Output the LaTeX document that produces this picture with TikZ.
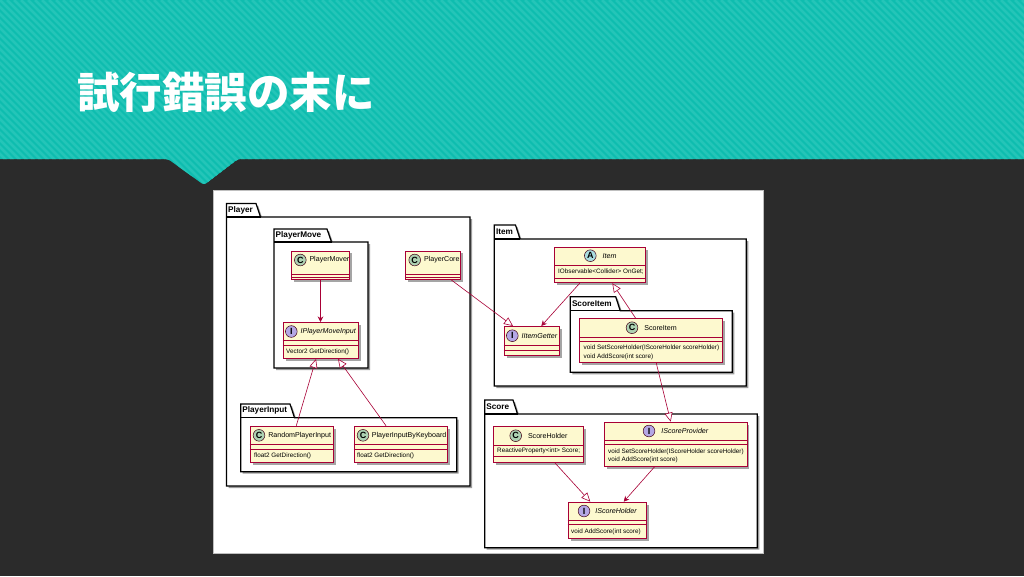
\documentclass[tikz,border=0pt]{standalone}
\usepackage{fontspec}
\setmainfont{Liberation Sans}
\newfontfamily\cjk{Noto Sans CJK JP}
\usetikzlibrary{arrows.meta,positioning,calc,shadows}
\definecolor{slidedark}{HTML}{2B2B2B}
\definecolor{slideteal}{HTML}{0EBDAF}
\definecolor{slidestripe}{HTML}{24C5B8}
\definecolor{umlred}{HTML}{A80036}
\definecolor{umlfill}{HTML}{FDF9CF}
\definecolor{spotclass}{HTML}{ADD1B2}
\definecolor{spotiface}{HTML}{B4A7E5}
\definecolor{spotabs}{HTML}{A9DCDF}

% package folder: name, left, tab top, tab right, body top, right, bottom
\newcommand{\pkgfolder}[7]{
    \draw[package] (#2,#5) -- (#2,#3) -- (#4,#3) -- ({#4+4.5},#5) -- (#6,#5) -- (#6,#7) -- (#2,#7) -- cycle;
    \draw[packageline] (#2,#5) -- ({#4+4.5},#5);
    \node[pkgtitle] (#1Title) at ({#2+1.5},{(#3+#5)/2}) {#1};
}
% class box: name, centre x, top, width, height, header height, gap
\newcommand{\umlbox}[7]{
    \node[classbox, minimum width=#4, minimum height=#5, anchor=north] (#1) at (#2,#3) {};
    \draw[classline] ($(#1.north west)+(0,#6)$) -- ($(#1.north east)+(0,#6)$);
    \draw[classline] ($(#1.north west)+(0,#6+#7)$) -- ($(#1.north east)+(0,#6+#7)$);
}

\begin{document}
\begin{tikzpicture}[
    x=1pt, y=-1pt,
    package/.style={draw=black, line width=1.2pt, fill=white, drop shadow={shadow xshift=2pt, shadow yshift=-2pt, fill=black!55, opacity=0.7}},
    packageline/.style={draw=black, line width=1.2pt},
    pkgtitle/.style={font=\fontsize{8.2}{9}\selectfont\bfseries, anchor=west, inner sep=0pt},
    classbox/.style={rectangle, draw=umlred, line width=0.9pt, fill=umlfill, inner sep=0pt, drop shadow={shadow xshift=2.5pt, shadow yshift=-2.5pt, fill=black!50, opacity=0.7}},
    classline/.style={draw=umlred, line width=0.7pt},
    spot/.style={circle, draw=umlred!40!black, line width=0.5pt, minimum size=11.7pt, inner sep=0pt, font=\fontsize{9}{10}\selectfont\bfseries},
    classtitle/.style={font=\fontsize{7.1}{8}\selectfont, inner sep=0pt},
    ifacetitle/.style={font=\fontsize{7.1}{8}\selectfont\itshape, inner sep=0pt},
    member/.style={font=\fontsize{6.35}{8}\selectfont, anchor=west, inner sep=0pt},
    usesarrow/.style={-{Stealth[length=5.5pt,width=5.5pt]}, draw=umlred, line width=0.6pt},
    implarrow/.style={-{Triangle[open,length=9pt,width=8pt,fill=white]}, draw=umlred, line width=0.6pt}
]
\useasboundingbox (0,0) rectangle (1024,576);

% --- SLIDE ---
\fill[slidedark] (0,0) rectangle (1024,576);
\begin{scope}
    \clip[rounded corners=3pt] (-20,-20) -- (1044,-20) -- (1044,159) -- (238,159) -- (204,185) -- (168,159) -- (-20,159) -- cycle;
    \fill[slideteal] (-20,-20) rectangle (1044,190);
    \foreach \i in {-30,...,150} {
        \draw[slidestripe, line width=2.6pt] ({7*\i},0) -- ({7*\i+190},190);
    }
\end{scope}
\node[font=\cjk\bfseries\fontsize{42.5}{43}\selectfont, text=white, anchor=base west, inner sep=0pt] (SlideTitle) at (77,108) {試行錯誤の末に};
\node[rectangle, fill=white, draw=black!25, line width=0.4pt, minimum width=550, minimum height=363, anchor=north west, inner sep=0pt] (Sheet) at (213,190) {};

% --- PACKAGES ---
\pkgfolder{Player}{226.5}{203.5}{256}{217}{470}{486}
\pkgfolder{PlayerMove}{274}{229}{327}{242}{368}{368}
\pkgfolder{PlayerInput}{240.7}{404}{290}{417.7}{456.7}{471.7}
\pkgfolder{Item}{494.3}{225}{515.5}{239}{746.3}{386}
\pkgfolder{ScoreItem}{570.3}{296.7}{615.7}{310.7}{732.3}{372.3}
\pkgfolder{Score}{484.7}{400}{513}{414}{757.3}{547.7}

% --- CLASSES ---
\umlbox{PlayerMover}{320.5}{250.5}{58}{28.5}{23.5}{3.5}
\node[spot, fill=spotclass] (PlayerMoverSpot) at (300.3,260) {C};
\node[classtitle, right=2.9pt of PlayerMoverSpot] (PlayerMoverName) {PlayerMover};

\umlbox{PlayerCore}{433.2}{250.5}{55}{28.5}{23.5}{3.5}
\node[spot, fill=spotclass] (PlayerCoreSpot) at (414.7,260) {C};
\node[classtitle, right=3pt of PlayerCoreSpot] (PlayerCoreName) {PlayerCore};

\umlbox{IPlayerMoveInput}{320.5}{322}{75}{36}{18.7}{4.3}
\node[spot, fill=spotiface] (IPlayerMoveInputSpot) at (291.3,331.5) {I};
\node[ifacetitle, right=3pt of IPlayerMoveInputSpot] (IPlayerMoveInputName) {IPlayerMoveInput};
\node[member] (IPlayerMoveInputM) at (286,352.3) {Vector2 GetDirection()};

\umlbox{RandomPlayerInput}{291.5}{425.7}{83}{36.6}{18.3}{5}
\node[spot, fill=spotclass] (RandomPlayerInputSpot) at (259,435.3) {C};
\node[classtitle, right=3pt of RandomPlayerInputSpot] (RandomPlayerInputName) {RandomPlayerInput};
\node[member] (RandomPlayerInputM) at (254,455.5) {float2 GetDirection()};

\umlbox{PlayerInputByKeyboard}{400.5}{425.7}{93}{36.6}{18.3}{5}
\node[spot, fill=spotclass] (PlayerInputByKeyboardSpot) at (363,435.3) {C};
\node[classtitle, right=2.5pt of PlayerInputByKeyboardSpot] (PlayerInputByKeyboardName) {PlayerInputByKeyboard};
\node[member] (PlayerInputByKeyboardM) at (357,455.5) {float2 GetDirection()};

\umlbox{ItemBase}{600}{246.7}{90.6}{35.6}{19}{12.6}
\node[spot, fill=spotabs] (ItemSpot) at (590.3,255.7) {A};
\node[ifacetitle, right=6pt of ItemSpot] (ItemName) {Item};
\node[member] (ItemM) at (558,271.5) {IObservable<Collider> OnGet;};

\umlbox{IItemGetter}{531.5}{326}{55}{29}{19.7}{4.3}
\node[spot, fill=spotiface] (IItemGetterSpot) at (512.3,335.7) {I};
\node[ifacetitle, right=3pt of IItemGetterSpot] (IItemGetterName) {IItemGetter};

\umlbox{ScoreItemBox}{651}{318.3}{142.3}{44}{18.7}{4}
\node[spot, fill=spotclass] (ScoreItemSpot) at (632,327.7) {C};
\node[classtitle, right=6pt of ScoreItemSpot] (ScoreItemName) {ScoreItem};
\node[member] (ScoreItemM1) at (583.5,348) {void SetScoreHolder(IScoreHolder scoreHolder)};
\node[member] (ScoreItemM2) at (583.5,356.5) {void AddScore(int score)};

\umlbox{ScoreHolder}{538.7}{425.7}{90}{36}{19.3}{11.5}
\node[spot, fill=spotclass] (ScoreHolderSpot) at (515.7,435.7) {C};
\node[classtitle, right=6pt of ScoreHolderSpot] (ScoreHolderName) {ScoreHolder};
\node[member] (ScoreHolderM) at (497,451) {ReactiveProperty<int> Score;};

\umlbox{IScoreProvider}{675.8}{421.7}{142.3}{44}{18.3}{4.3}
\node[spot, fill=spotiface] (IScoreProviderSpot) at (649,431) {I};
\node[ifacetitle, right=6pt of IScoreProviderSpot] (IScoreProviderName) {IScoreProvider};
\node[member] (IScoreProviderM1) at (608,451.5) {void SetScoreHolder(IScoreHolder scoreHolder)};
\node[member] (IScoreProviderM2) at (608,460) {void AddScore(int score)};

\umlbox{IScoreHolder}{607.2}{501.7}{78.3}{36}{18.3}{4.3}
\node[spot, fill=spotiface] (IScoreHolderSpot) at (584,511) {I};
\node[ifacetitle, right=5pt of IScoreHolderSpot] (IScoreHolderName) {IScoreHolder};
\node[member] (IScoreHolderM) at (571,531.5) {void AddScore(int score)};

% --- CONNECTORS ---
\draw[usesarrow] (PlayerMover.south) -- (IPlayerMoveInput.north);
\draw[implarrow] ([xshift=4.8pt]RandomPlayerInput.north) -- ([xshift=-4.5pt]IPlayerMoveInput.south);
\draw[implarrow] ([xshift=-14.5pt]PlayerInputByKeyboard.north) -- ([xshift=17.5pt]IPlayerMoveInput.south);
\draw[implarrow] ([xshift=18pt]PlayerCore.south) -- ([xshift=-18.5pt]IItemGetter.north);
\draw[usesarrow] ([xshift=-20.3pt]ItemBase.south) -- ([xshift=9.8pt]IItemGetter.north);
\draw[implarrow] ([xshift=-15.3pt]ScoreItemBox.north) -- ([xshift=12.3pt]ItemBase.south);
\draw[implarrow] ([xshift=5.3pt]ScoreItemBox.south) -- ([xshift=-5.1pt]IScoreProvider.north);
\draw[implarrow] ([xshift=16pt]ScoreHolder.south) -- ([xshift=-16.9pt]IScoreHolder.north);
\draw[usesarrow] ([xshift=-21.1pt]IScoreProvider.south) -- ([xshift=16.5pt]IScoreHolder.north);

\end{tikzpicture}
\end{document}
